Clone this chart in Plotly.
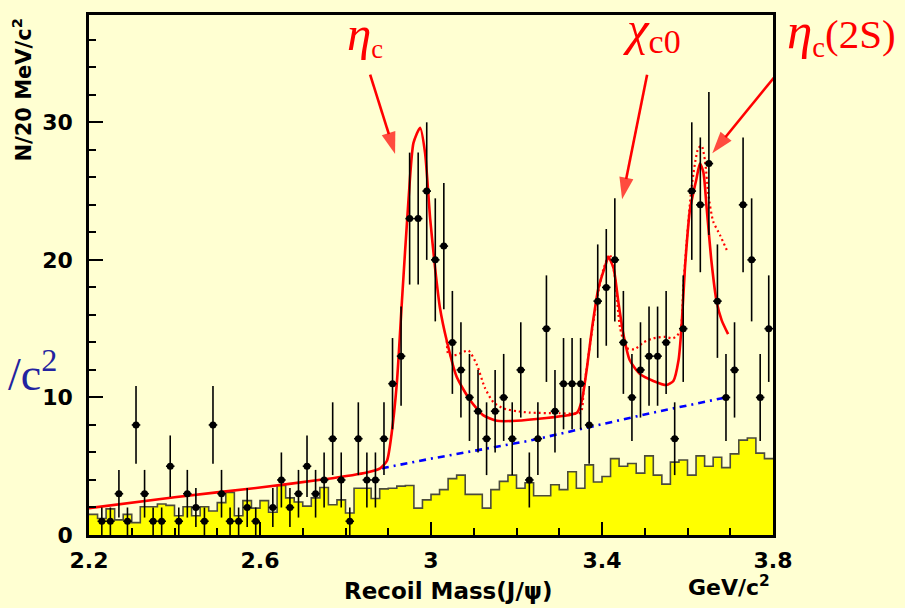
import numpy as np
import plotly.graph_objects as go

# ---- binning of the J/psi recoil mass (GeV/c^2) ----
mass_lo = 2.20
mass_hi = 3.80
bin_width = 0.02

# observed events per 20 MeV bin (2.20 ... 3.80)
counts = [0, 1, 1, 3, 1, 8, 3, 1, 1, 5,
          1, 3, 2, 1, 8, 3, 1, 1, 2, 1,
          0, 2, 4, 2, 3, 5, 3, 4, 7, 4,
          1, 7, 4, 4, 7, 11, 13, 23, 23, 25,
          20, 21, 14, 12, 10, 9, 7, 9, 10, 7,
          12, 4, 7, 15, 9, 11, 11, 11, 8, 17,
          18, 20, 14, 10, 12, 13, 13, 14, 7, 15,
          25, 24, 27, 17, 10, 12, 24, 20, 10, 15]

# sideband (non-J/psi) estimate per bin, shown as the shaded histogram
sideband = [1.5, 1.2, 1.9, 1.1, 1.5, 0.9, 2.05, 2.05, 2.25, 2.15,
            1.4, 2.05, 1.4, 2.05, 1.75, 2.35, 3.1, 1.4, 2.5, 1.95,
            2.5, 1.65, 3.6, 2.7, 2.4, 2.1, 2.7, 3.45, 2.2, 2.55,
            1.6, 3.4, 3.4, 2.65, 3.35, 3.4, 3.55, 3.6, 1.95, 2.55,
            2.95, 3.3, 4.1, 4.35, 2.95, 2.95, 1.95, 3.3, 3.9, 4.35,
            3.4, 3.8, 2.85, 2.85, 3.65, 3.3, 4.6, 3.4, 5.1, 3.85,
            4.25, 5.55, 5.0, 5.2, 4.5, 5.75, 4.35, 3.7, 5.3, 5.45,
            4.35, 5.75, 5.0, 5.65, 4.9, 5.9, 6.9, 7.05, 5.95, 5.55]

# total fit (three resonances + background)
fit_mass = [2.20, 2.40, 2.60, 2.75, 2.85, 2.881, 2.897, 2.908, 2.920, 2.932,
            2.947, 2.959, 2.9745, 2.986, 2.998, 3.0096, 3.021, 3.037, 3.060, 3.0915,
            3.1226, 3.154, 3.20, 3.27, 3.32, 3.342, 3.353, 3.365, 3.377, 3.392,
            3.408, 3.415, 3.427, 3.438, 3.450, 3.465, 3.489, 3.520, 3.551, 3.567,
            3.579, 3.586, 3.594, 3.606, 3.621, 3.629, 3.637, 3.645, 3.656, 3.668,
            3.680, 3.695]
fit_value = [1.95, 2.75, 3.45, 4.05, 4.55, 4.85, 5.4, 7.4, 11.0, 17.0,
             24.2, 28.5, 29.6, 27.8, 23.0, 19.4, 16.5, 14.1, 11.5, 9.8,
             8.7, 8.3, 8.3, 8.5, 8.7, 8.9, 9.8, 12.2, 15.1, 18.0,
             19.6, 20.2, 19.4, 17.0, 14.6, 12.7, 11.7, 11.2, 10.9, 11.2,
             12.7, 15.1, 19.4, 23.7, 25.9, 27.0, 26.4, 23.7, 19.9, 17.0,
             15.6, 14.6]

# alternative fit including extra contributions
alt_mass = [3.037, 3.041, 3.060, 3.0875, 3.107, 3.126, 3.146, 3.169, 3.20, 3.23,
            3.30, 3.35, 3.357, 3.375, 3.39, 3.405, 3.418, 3.43, 3.442, 3.457,
            3.476, 3.497, 3.520, 3.547, 3.567, 3.583, 3.590, 3.598, 3.610, 3.625,
            3.633, 3.641, 3.649, 3.660, 3.676, 3.695]
alt_value = [14.1, 13.1, 13.1, 13.4, 12.4, 10.7, 9.65, 9.2, 9.0, 8.9,
             8.85, 8.9, 10.5, 14.5, 17.5, 19.5, 20.4, 18.8, 15.1, 13.6,
             13.5, 14.0, 14.3, 14.4, 14.3, 14.8, 18.0, 21.3, 25.4, 28.1,
             28.3, 27.2, 24.7, 22.8, 21.8, 20.5]

# background component of the fit
bkg_mass = [2.885, 3.00, 3.23, 3.52, 3.69]
bkg_value = [4.85, 5.55, 6.85, 8.9, 10.0]

x_ticks = [2.2, 2.6, 3.0, 3.4, 3.8]
x_tick_text = ["2.2", "2.6", "3", "3.4", "3.8"]

# arrows marking the resonances: (tail mass, tail height) -> (tip mass, tip height)
arrow_tail = [(2.8576, 33.46), (3.5055, 33.46), (3.8077, 33.46)]
arrow_tip = [(2.916, 27.7), (3.447, 24.4), (3.658, 27.75)]

# ---- derived arrays ----
counts_arr = np.array(counts, dtype=float)
centers = mass_lo + bin_width * (np.arange(len(counts)) + 0.5)
edges = mass_lo + bin_width * np.arange(len(sideband) + 1)
shown = counts_arr > 0
pt_x = centers[shown]
pt_y = counts_arr[shown]
pt_err = np.sqrt(pt_y)

bg = "#FFFFD2"
axis_font = dict(family="DejaVu Sans", size=22, color="black", weight="bold")
red = "#FF0000"

fig = go.Figure()

# sideband histogram (step outline, filled)
fig.add_trace(go.Scatter(
    x=edges, y=list(sideband) + [sideband[-1]],
    mode="lines", line=dict(shape="hv", color="#4b4b3c", width=1.6),
    fill="tozeroy", fillcolor="#FFFF00", hoverinfo="skip", showlegend=False))

# background line
fig.add_trace(go.Scatter(
    x=bkg_mass, y=bkg_value, mode="lines",
    line=dict(color="#0000FF", width=2.6, dash="7px,5px,2px,5px"),
    showlegend=False))

# alternative fit (dotted)
fig.add_trace(go.Scatter(
    x=alt_mass, y=alt_value, mode="lines",
    line=dict(color=red, width=2.2, dash="2px,3px", shape="spline", smoothing=0.6),
    showlegend=False))

# total fit
fig.add_trace(go.Scatter(
    x=fit_mass, y=fit_value, mode="lines",
    line=dict(color=red, width=2.6, shape="spline", smoothing=0.6),
    showlegend=False))

# data with Poisson errors
fig.add_trace(go.Scatter(
    x=pt_x, y=pt_y, mode="markers",
    marker=dict(symbol="circle", size=7, color="black"),
    error_y=dict(type="data", array=pt_err, color="black", thickness=1.6, width=0),
    error_x=dict(type="constant", value=bin_width / 2, color="black", thickness=1.6, width=0),
    showlegend=False))

# red arrows
for (tx, ty), (hx, hy) in zip(arrow_tail, arrow_tip):
    fig.add_trace(go.Scatter(
        x=[tx, hx], y=[ty, hy], mode="lines+markers", cliponaxis=False,
        line=dict(color=red, width=2.6),
        marker=dict(symbol=["circle", "arrow"], size=[0, 23], color=red,
                    angleref="previous", line=dict(width=0)),
        hoverinfo="skip", showlegend=False))

fig.update_xaxes(
    range=[mass_lo, mass_hi], tickmode="array", tickvals=x_ticks, ticktext=x_tick_text,
    ticks="inside", ticklen=13, tickwidth=2, tickcolor="black",
    minor=dict(dtick=0.1, tick0=mass_lo, ticks="inside", ticklen=7, tickwidth=1.6,
               tickcolor="black", showgrid=False),
    showline=True, linecolor="black", linewidth=2.5, mirror=True,
    showgrid=False, zeroline=False, tickfont=axis_font, ticklabelstandoff=4)

fig.update_yaxes(
    range=[0, 37.8], tick0=0, dtick=10,
    ticks="inside", ticklen=14, tickwidth=2, tickcolor="black",
    minor=dict(dtick=2, tick0=0, ticks="inside", ticklen=7, tickwidth=1.6,
               tickcolor="black", showgrid=False),
    showline=True, linecolor="black", linewidth=2.5, mirror=True,
    showgrid=False, zeroline=False, tickfont=axis_font, ticklabelstandoff=9)


def sans(size):
    return dict(family="DejaVu Sans", size=size, color="black", weight="bold")


def serif(size, color=red):
    return dict(family="Liberation Serif", size=size, color=color)


greek = "<span style='font-size:{}px'><i>{}</i></span>"

# (text, centre x px, centre y px, font, angle)
labels = [
    ("N/20 MeV/c<sup>2</sup>", 22, 87, sans(21), -90),
    ("Recoil Mass(J/ψ)", 448, 591, sans(23), 0),
    ("GeV/c<sup>2</sup>", 729, 586, sans(22), 0),
    (greek.format(49, "η") + "<sub>c</sub>", 365, 32, serif(38), 0),
    (greek.format(49, "χ") + "<sub><span style='font-size:34px'>c0</span></sub>",
     652, 28, serif(38), 0),
    (greek.format(51, "η") + "<sub>c</sub>(2S)", 841, 30, serif(41), 0),
    ("/c<sup>2</sup>", 32, 370, serif(46, color="#2323A0"), 0),
]

W, H = 905, 608
plot_l, plot_r, plot_t, plot_b = 89, 773, 12, 535

annotations = []
for text, px, py, font, angle in labels:
    annotations.append(dict(
        text=text, font=font, textangle=angle,
        x=(px - plot_l) / (plot_r - plot_l), y=(plot_b - py) / (plot_b - plot_t),
        xref="paper", yref="paper", showarrow=False,
        xanchor="center", yanchor="middle"))

fig.update_layout(
    width=W, height=H, autosize=False,
    margin=dict(l=plot_l, r=W - plot_r, t=plot_t, b=H - plot_b),
    paper_bgcolor=bg, plot_bgcolor=bg,
    annotations=annotations,
    showlegend=False)

fig.write_html("out.html")
